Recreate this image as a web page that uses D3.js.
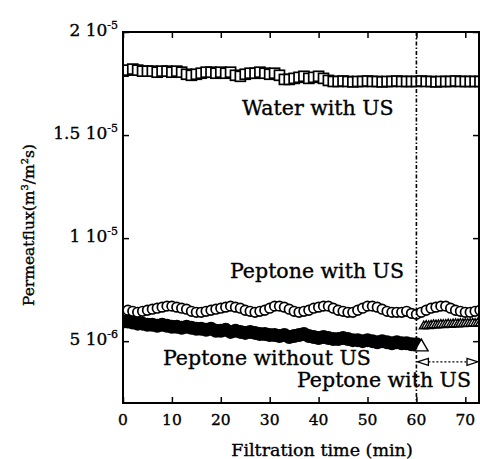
<!DOCTYPE html>
<html>
<head>
<meta charset="utf-8">
<script src="https://cdn.jsdelivr.net/npm/d3@7"></script>
<style>
  html, body { margin: 0; padding: 0; background: #fff; }
  svg { display: block; }
  text { font-family: "DejaVu Serif", "Liberation Serif", serif; fill: #000; stroke: #000; stroke-width: 0.35; }
</style>
</head>
<body>
<svg id="chart" width="480" height="459"></svg>
<script>
// Permeate flux, in units of 1e-6 m3/m2s, sampled once per minute
const waterUS = [
  18.1, 18.15, 18.2, 18.15, 18.1, 18.1, 18.1, 18.05, 18.1, 18.1, 18.05, 18.1, 18.05,
  17.95, 17.9, 17.95, 18.0, 18.05, 18.05, 18.0, 18.05, 18.0, 18.05, 17.9, 17.85,
  17.95, 18.0, 18.0, 18.05, 18.0, 17.95, 18.0, 17.9, 17.7, 17.7, 17.75, 17.8, 17.85,
  17.75, 17.8, 17.85, 17.75, 17.65, 17.6, 17.6, 17.62, 17.6, 17.58, 17.6, 17.6,
  17.62, 17.6, 17.6, 17.58, 17.6, 17.6, 17.62, 17.6, 17.6, 17.6, 17.6, 17.62, 17.6,
  17.6, 17.58, 17.6, 17.6, 17.6, 17.62, 17.6, 17.6, 17.6, 17.6, 17.6
];
const peptoneUS = [
  6.45, 6.5, 6.45, 6.4, 6.45, 6.5, 6.55, 6.6, 6.65, 6.7, 6.7, 6.65, 6.6, 6.55, 6.45,
  6.4, 6.4, 6.45, 6.5, 6.55, 6.6, 6.65, 6.7, 6.65, 6.6, 6.5, 6.45, 6.4, 6.45, 6.5,
  6.6, 6.7, 6.7, 6.65, 6.55, 6.45, 6.4, 6.45, 6.5, 6.6, 6.65, 6.7, 6.7, 6.6, 6.5,
  6.45, 6.4, 6.4, 6.5, 6.6, 6.7, 6.7, 6.65, 6.55, 6.45, 6.4, 6.4, 6.4, 6.45, 6.35,
  6.3, 6.4, 6.5, 6.6, 6.65, 6.7, 6.7, 6.6, 6.5, 6.45, 6.4, 6.4, 6.45, 6.5
];
const peptoneNoUS = [
  5.95, 5.95, 5.9, 5.85, 5.85, 5.8, 5.8, 5.75, 5.8, 5.75, 5.7, 5.7, 5.65, 5.7, 5.65,
  5.6, 5.6, 5.55, 5.6, 5.5, 5.5, 5.55, 5.45, 5.5, 5.45, 5.4, 5.45, 5.4, 5.35, 5.35,
  5.3, 5.3, 5.25, 5.3, 5.2, 5.25, 5.3, 5.35, 5.25, 5.2, 5.15, 5.2, 5.15, 5.1, 5.1,
  5.15, 5.1, 5.05, 5.05, 5.0, 5.05, 5.0, 4.95, 5.0, 4.95, 4.9, 4.95, 4.9, 4.9, 4.85, 4.85
];
// Peptone switched to US at 60 min, sampled every half minute
const switchTimes = [61, 61.5, 62, 62.5, 63, 63.5, 64, 64.5, 65, 65.5, 66, 66.5, 67,
  67.5, 68, 68.5, 69, 69.5, 70, 70.5, 71, 71.5, 72, 72.5, 73];
const switchUS = [4.72, 5.72, 5.75, 5.74, 5.76, 5.78, 5.77, 5.78, 5.8, 5.79, 5.8, 5.82,
  5.8, 5.82, 5.83, 5.82, 5.84, 5.83, 5.85, 5.84, 5.85, 5.86, 5.85, 5.86, 5.87];

const xTicks = [0, 10, 20, 30, 40, 50, 60, 70];
const yTicks = [5, 10, 15, 20];
const yTickMantissa = ["5", "1", "1.5", "2"];
const yTickExponent = ["-6", "-5", "-5", "-5"];

const svg = d3.select("#chart");
const L = 123, R = 479, T = 32, B = 403;

const x = d3.scaleLinear().domain([0, 72.8]).range([L, R]);
const y = d3.scaleLinear().domain([2, 20]).range([B, T]);

svg.append("defs").append("clipPath").attr("id", "plotClip")
  .append("rect").attr("x", L).attr("y", T).attr("width", R - L).attr("height", B - T);

const plot = svg.append("g").attr("clip-path", "url(#plotClip)");

// Peptone without US: filled circles
plot.append("g").selectAll("circle").data(peptoneNoUS).join("circle")
  .attr("cx", (d, i) => x(i)).attr("cy", d => y(d)).attr("r", 7)
  .attr("fill", "#000");

// Peptone with US: open circles
plot.append("g").selectAll("circle").data(peptoneUS).join("circle")
  .attr("cx", (d, i) => x(i)).attr("cy", d => y(d)).attr("r", 4.8)
  .attr("fill", "#fff").attr("stroke", "#000").attr("stroke-width", 1.7);

// Water with US: open squares
plot.append("g").selectAll("rect").data(waterUS).join("rect")
  .attr("x", (d, i) => x(i) - 5).attr("y", d => y(d) - 5)
  .attr("width", 10).attr("height", 10)
  .attr("fill", "#fff").attr("stroke", "#000").attr("stroke-width", 1.7);

// After 60 min: open triangles (first is the large marker)
const tri = d3.symbol().type(d3.symbolTriangle);
plot.append("g").selectAll("path").data(switchUS).join("path")
  .attr("transform", (d, i) => `translate(${x(switchTimes[i])},${y(d)})`)
  .attr("d", (d, i) => tri.size(i === 0 ? 80 : 34)())
  .attr("fill", "#fff").attr("stroke", "#000").attr("stroke-width", 1.4);

// Switch marker at 60 min
svg.append("line")
  .attr("x1", x(60)).attr("x2", x(60)).attr("y1", T).attr("y2", B)
  .attr("stroke", "#000").attr("stroke-width", 1.6)
  .attr("stroke-dasharray", "4,2,1.5,2");

// Double-headed arrow marking the US period
const arrowY = y(4.0);
svg.append("line")
  .attr("x1", x(60) + 8).attr("x2", x(72.8) - 8).attr("y1", arrowY).attr("y2", arrowY)
  .attr("stroke", "#000").attr("stroke-width", 1.3).attr("stroke-dasharray", "2,2");
const headL = x(60) + 1, headR = x(72.8) - 1;
svg.append("path")
  .attr("d", `M${headL},${arrowY} L${headL + 11},${arrowY - 3.5} L${headL + 11},${arrowY + 3.5} Z`)
  .attr("fill", "#fff").attr("stroke", "#000").attr("stroke-width", 1.3);
svg.append("path")
  .attr("d", `M${headR},${arrowY} L${headR - 11},${arrowY - 3.5} L${headR - 11},${arrowY + 3.5} Z`)
  .attr("fill", "#fff").attr("stroke", "#000").attr("stroke-width", 1.3);

// Axes with inward ticks on all four sides
function styleAxis(g) {
  g.select(".domain").remove();
  g.selectAll(".tick line").attr("stroke", "#000").attr("stroke-width", 1.5);
  g.selectAll(".tick text").remove();
}
svg.append("g").attr("transform", `translate(0,${B})`)
  .call(d3.axisBottom(x).tickValues(xTicks).tickSize(-6)).call(styleAxis);
svg.append("g").attr("transform", `translate(0,${T})`)
  .call(d3.axisTop(x).tickValues(xTicks).tickSize(-6)).call(styleAxis);
svg.append("g").attr("transform", `translate(${L},0)`)
  .call(d3.axisLeft(y).tickValues(yTicks).tickSize(-6)).call(styleAxis);
svg.append("g").attr("transform", `translate(${R},0)`)
  .call(d3.axisRight(y).tickValues(yTicks).tickSize(-6)).call(styleAxis);

svg.append("rect").attr("x", L).attr("y", T).attr("width", R - L).attr("height", B - T)
  .attr("fill", "none").attr("stroke", "#000").attr("stroke-width", 2);

// Tick labels
svg.append("g").selectAll("text").data(xTicks).join("text")
  .attr("x", d => x(d)).attr("y", 425).attr("text-anchor", "middle")
  .attr("font-size", 15.5).text(d => d);

const yLab = svg.append("g").selectAll("text").data(yTicks).join("text")
  .attr("x", 118).attr("y", d => y(d) + 4).attr("text-anchor", "end")
  .attr("font-size", 17);
yLab.append("tspan").text((d, i) => yTickMantissa[i] + " 10");
yLab.append("tspan").attr("font-size", 11).attr("dy", -7).text((d, i) => yTickExponent[i]);

// Axis titles
svg.append("text").attr("x", 322).attr("y", 456).attr("text-anchor", "middle")
  .attr("font-size", 17.5).text("Filtration time (min)");

const yt = svg.append("text").attr("transform", "translate(34,225) rotate(-90)")
  .attr("text-anchor", "middle").attr("font-size", 15.5);
yt.append("tspan").text("Permeatflux(m");
yt.append("tspan").attr("font-size", 10).attr("dy", -6).text("3");
yt.append("tspan").attr("dy", 6).text("/m");
yt.append("tspan").attr("font-size", 10).attr("dy", -6).text("2");
yt.append("tspan").attr("dy", 6).text("s)");

// Series annotations
const notes = [
  { t: "Water with US", x: 242, y: 115 },
  { t: "Peptone with US", x: 230, y: 278 },
  { t: "Peptone without US", x: 163, y: 365 },
  { t: "Peptone with US", x: 297, y: 387 }
];
svg.append("g").selectAll("text").data(notes).join("text")
  .attr("x", d => d.x).attr("y", d => d.y).attr("font-size", 20.5).text(d => d.t);
</script>
</body>
</html>
